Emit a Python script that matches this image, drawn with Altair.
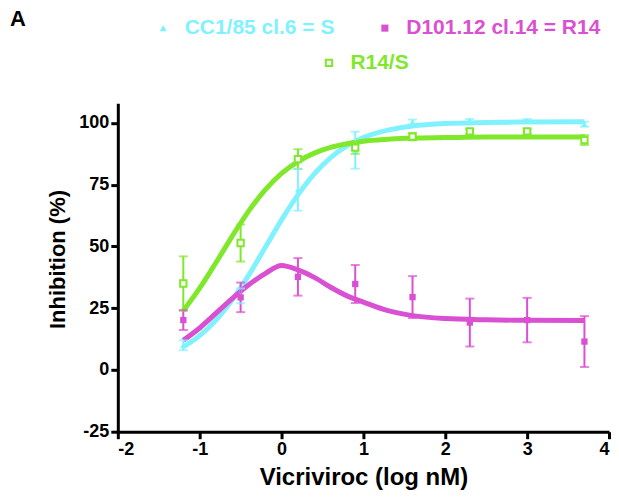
import altair as alt
import pandas as pd

# ---------------- data ----------------
S_NAME = "CC1/85 cl.6 = S"
R14_NAME = "D101.12 cl.14 = R14"
RS_NAME = "R14/S"
PANEL_LABEL = ["A"]

CYAN = "#80F2FF"
MAGENTA = "#DA50D2"
GREEN = "#80E82A"

x_pts = [-1.2, -0.5, 0.2, 0.9, 1.6, 2.3, 3.0, 3.7]
S_mean = [10.0, 30.0, 73.0, 89.0, 100.4, 100.8, 100.8, 99.5]
S_err = [2.0, 3.0, 8.5, 7.5, 1.0, 0.8, 0.8, 1.0]
R14_mean = [20.2, 29.4, 37.7, 34.8, 29.5, 19.2, 20.2, 11.5]
R14_err = [4.0, 6.0, 7.6, 7.7, 8.5, 9.7, 9.0, 10.3]
RS_mean = [35.0, 51.4, 85.4, 90.0, 94.5, 96.6, 96.6, 93.1]
RS_err = [11.0, 7.5, 4.0, 2.5, 1.5, 1.0, 1.0, 2.0]

x_fit = [-1.2, -1.0, -0.8, -0.6, -0.4, -0.2, 0.0, 0.2, 0.4, 0.6, 0.8, 1.0, 1.3, 1.6, 2.0, 2.5, 3.0, 3.7]
S_fit = [9.3, 13.9, 20.2, 28.5, 38.4, 49.6, 60.8, 70.9, 79.4, 86.0, 90.7, 94.1, 97.1, 98.8, 99.8, 100.2, 100.4, 100.5]
RS_fit = [24.0, 33.1, 43.5, 54.3, 64.4, 72.9, 79.6, 84.4, 87.8, 90.1, 91.6, 92.6, 93.4, 93.9, 94.1, 94.3, 94.3, 94.3]
R14_fit = [12.0, 17.0, 23.0, 29.0, 34.5, 39.0, 42.3, 40.5, 37.5, 33.5, 30.0, 27.5, 24.0, 22.0, 20.8, 20.3, 20.1, 20.0]

x_ticks = [-2, -1, 0, 1, 2, 3, 4]
y_ticks = [-25, 0, 25, 50, 75, 100]

# ---------------- tables ----------------
def pts_table(name, means, errs):
    return pd.DataFrame({"x": x_pts, "mean": means, "err": errs, "series": name})

pts = pd.concat([pts_table(S_NAME, S_mean, S_err),
                 pts_table(R14_NAME, R14_mean, R14_err),
                 pts_table(RS_NAME, RS_mean, RS_err)], ignore_index=True)
pts["lo"] = pts["mean"] - pts["err"]
pts["hi"] = pts["mean"] + pts["err"]

fit = pd.concat([pd.DataFrame({"x": x_fit, "y": S_fit, "series": S_NAME, "o": 0}),
                 pd.DataFrame({"x": x_fit, "y": RS_fit, "series": RS_NAME, "o": 1}),
                 pd.DataFrame({"x": x_fit, "y": R14_fit, "series": R14_NAME, "o": 2})],
                ignore_index=True)

FONT = "Liberation Sans"

xscale = alt.Scale(domain=[-2, 4], nice=False, zero=False)
yscale = alt.Scale(domain=[-25, 108], nice=False, zero=False)

xenc = alt.X("x:Q", scale=xscale,
             axis=alt.Axis(values=x_ticks, labelExpr="'' + datum.value",
                           title="Vicriviroc (log nM)", titlePadding=7, titleFontSize=24))
yenc = alt.Y("y:Q", scale=yscale,
             axis=alt.Axis(values=y_ticks, labelExpr="'' + datum.value",
                           title="Inhibition (%)", titlePadding=9, titleFontSize=22,
                           titleY=156))

color_all = alt.Color("series:N",
                      scale=alt.Scale(domain=[S_NAME, R14_NAME, RS_NAME],
                                      range=[CYAN, MAGENTA, GREEN]),
                      legend=None)

# fitted curves
curves = alt.Chart(fit).mark_line(strokeWidth=5, interpolate="monotone").encode(
    x=xenc, y=yenc, color=color_all, detail="series:N", order="o:Q")

# error bars
rules = alt.Chart(pts).mark_rule(strokeWidth=2).encode(
    x=alt.X("x:Q", scale=xscale), y=alt.Y("lo:Q", scale=yscale), y2="hi:Q",
    color=color_all)
cap_lo = alt.Chart(pts).mark_tick(orient="horizontal", size=9, thickness=2).encode(
    x=alt.X("x:Q", scale=xscale), y=alt.Y("lo:Q", scale=yscale), color=color_all)
cap_hi = alt.Chart(pts).mark_tick(orient="horizontal", size=9, thickness=2).encode(
    x=alt.X("x:Q", scale=xscale), y=alt.Y("hi:Q", scale=yscale), color=color_all)

label_color_expr = {"expr": f"datum.value == '{S_NAME}' ? '{CYAN}' : '{MAGENTA}'"}
legA = alt.Legend(orient="none", legendX=35, legendY=-86, direction="horizontal",
                  title=None, padding=0, labelFont=FONT, labelFontSize=21,
                  labelFontWeight="bold", labelColor=label_color_expr, labelLimit=400,
                  symbolSize=50, symbolStrokeWidth=0, labelOffset=11,
                  columnPadding=39)

ptsA = pts[pts["series"] != RS_NAME]
ptsB = pts[pts["series"] == RS_NAME]

pointsA = alt.Chart(ptsA).mark_point(filled=True, size=40, opacity=1, strokeWidth=0).encode(
    x=alt.X("x:Q", scale=xscale), y=alt.Y("mean:Q", scale=yscale),
    fill=alt.Fill("series:N", scale=alt.Scale(domain=[S_NAME, R14_NAME], range=[CYAN, MAGENTA]),
                  legend=legA),
    shape=alt.Shape("series:N", scale=alt.Scale(domain=[S_NAME, R14_NAME],
                                                range=["triangle-up", "square"]),
                    legend=legA))

legB = alt.Legend(orient="none", legendX=201, legendY=-51, title=None, padding=0,
                  labelFont=FONT, labelFontSize=21, labelFontWeight="bold",
                  labelColor=GREEN, symbolType="square", symbolFillColor="white",
                  symbolStrokeWidth=2, symbolSize=40, labelOffset=11, labelLimit=400)

pointsB = alt.Chart(ptsB).mark_point(shape="square", filled=False, fill="white", size=40,
                                     strokeWidth=2, opacity=1).encode(
    x=alt.X("x:Q", scale=xscale), y=alt.Y("mean:Q", scale=yscale),
    stroke=alt.Stroke("series:N", scale=alt.Scale(domain=[RS_NAME], range=[GREEN]),
                      legend=legB))

# panel letter (annotation placed in the top-left corner of the figure)
panel = alt.Chart(pd.DataFrame({"label": PANEL_LABEL})).mark_text(
    align="left", baseline="top", font=FONT, fontSize=22, fontWeight="bold",
    color="black").encode(x=alt.value(-108), y=alt.value(-94), text="label:N")

chart = alt.layer(curves, rules, cap_lo, cap_hi, pointsA, pointsB, panel).properties(
    width=492, height=329,
    autosize="none",
    padding={"left": 110, "top": 95, "right": 2, "bottom": 60},
).configure_view(stroke=None).configure_axis(
    grid=False, domainColor="black", domainWidth=3, tickColor="black", tickWidth=3,
    tickSize=7, labelFont=FONT, labelFontSize=18, labelFontWeight="bold",
    labelColor="black", labelPadding=2, titleFont=FONT,
    titleFontWeight="bold", titleColor="black",
)

chart.save("out.html", embed_options={"renderer": "svg", "actions": False})
